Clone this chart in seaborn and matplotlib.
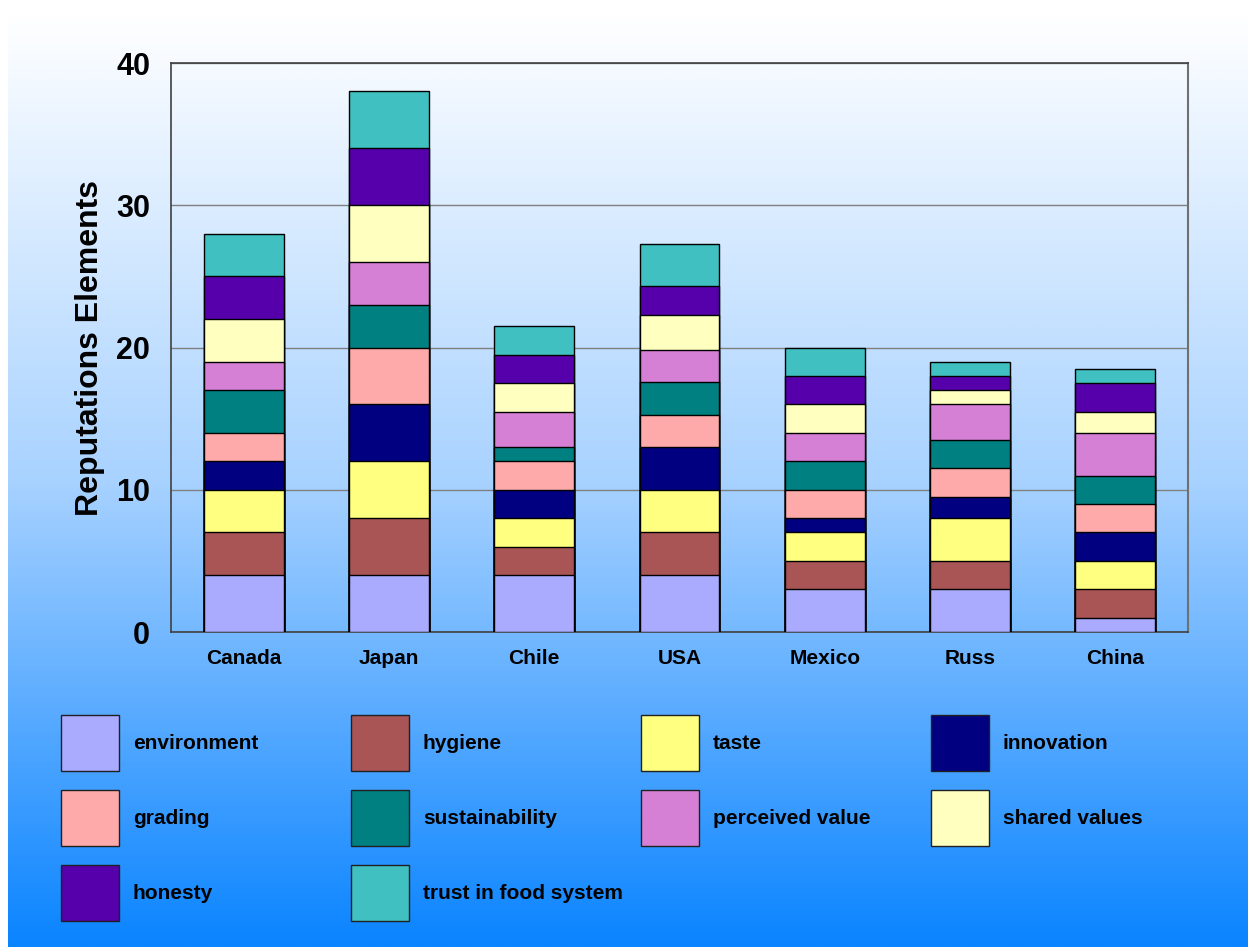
import numpy as np
import pandas as pd
import matplotlib
matplotlib.use("Agg")
import matplotlib.pyplot as plt
import seaborn as sns
from matplotlib.patches import Rectangle
from matplotlib.colors import LinearSegmentedColormap
from matplotlib.ticker import MultipleLocator, FixedLocator

countries = ["Canada", "Japan", "Chile", "USA", "Mexico", "Russ", "China"]
elements = ["environment", "hygiene", "taste", "innovation", "grading",
            "sustainability", "perceived value", "shared values", "honesty",
            "trust in food system"]

environment = [4, 4, 4, 4, 3, 3, 1]
hygiene = [3, 4, 2, 3, 2, 2, 2]
taste = [3, 4, 2, 3, 2, 3, 2]
innovation = [2, 4, 2, 3, 1, 1.5, 2]
grading = [2, 4, 2, 2.25, 2, 2, 2]
sustainability = [3, 3, 1, 2.3, 2, 2, 2]
perceived_value = [2, 3, 2.5, 2.25, 2, 2.5, 3]
shared_values = [3, 4, 2, 2.5, 2, 1, 1.5]
honesty = [3, 4, 2, 2, 2, 1, 2]
trust_in_food_system = [3, 4, 2, 3, 2, 1, 1]

colors = ["#aaaaff", "#aa5555", "#ffff80", "#000080", "#ffaaaa",
          "#008080", "#d580d5", "#ffffc0", "#5500aa", "#40c0c0"]

series = [environment, hygiene, taste, innovation, grading, sustainability,
          perceived_value, shared_values, honesty, trust_in_food_system]
df = pd.DataFrame(dict(zip(elements, series)), index=countries)
cum = df.cumsum(axis=1)

W, H = 1248, 947
sns.set_style("white")
plt.rcParams['font.family'] = ['Liberation Sans', 'DejaVu Sans']
plt.rcParams['font.weight'] = 'bold'
plt.rcParams['text.color'] = 'black'
plt.rcParams['axes.labelcolor'] = 'black'
plt.rcParams['xtick.labelcolor'] = 'black'
plt.rcParams['ytick.labelcolor'] = 'black'

fig = plt.figure(figsize=(W / 100, H / 100), dpi=100)
fig.patch.set_facecolor("white")

# gradient background
bg = fig.add_axes([8 / W, 0, 1 - 8 / W, (H - 15) / H])
cmap = LinearSegmentedColormap.from_list("bg", ["#ffffff", "#a8d2ff", "#0a84ff"])
grad = np.linspace(0, 1, 512).reshape(-1, 1)
bg.imshow(grad, aspect="auto", cmap=cmap, extent=[0, 1, 0, 1], origin="upper")
bg.set_axis_off()
bg.set_zorder(0)

ax = fig.add_axes([171 / W, 1 - 632 / H, (1188 - 171) / W, (632 - 63) / H])
ax.set_zorder(1)
ax.patch.set_alpha(0)

for i in reversed(range(len(elements))):
    sns.barplot(x=countries, y=cum[elements[i]].values, color=colors[i],
                width=0.55, saturation=1, edgecolor="black", linewidth=1,
                errorbar=None, ax=ax, zorder=3)

ax.set_xlim(-0.5, len(countries) - 0.5)
ax.set_ylim(0, 40)
ax.set_axisbelow(True)
ax.yaxis.grid(True, color="#808080", linewidth=1)
ax.xaxis.grid(False)

ax.yaxis.set_major_locator(MultipleLocator(10))
ax.yaxis.set_minor_locator(MultipleLocator(5))
ax.tick_params(axis="y", which="major", direction="out", length=10, width=1,
               color="#808080", labelsize=22, pad=5, labelcolor="black")
ax.tick_params(axis="y", which="minor", direction="inout", length=13, width=1,
               color="#808080")
ax.xaxis.set_minor_locator(FixedLocator(np.arange(-0.5, len(countries), 1.0)))
ax.tick_params(axis="x", which="major", length=0, labelsize=15, pad=12,
               labelcolor="black")
ax.tick_params(axis="x", which="minor", direction="inout", length=16, width=1,
               color="#808080")
for lab in ax.get_xticklabels() + ax.get_yticklabels():
    lab.set_fontweight("bold")

for s in ["left", "bottom", "top", "right"]:
    ax.spines[s].set_visible(True)
    ax.spines[s].set_color("#404040")
    ax.spines[s].set_linewidth(1.2)
ax.spines["right"].set_color("#707070")
ax.spines["right"].set_linewidth(1.5)

ax.set_xlabel("")
ax.set_ylabel("Reputations Elements", fontsize=23, fontweight="bold",
              labelpad=8, color="black")

# legend grid
for idx, name in enumerate(elements):
    row, col = divmod(idx, 4)
    x0 = 61 + 290 * col
    y0 = 715 + 75 * row
    fig.add_artist(Rectangle((x0 / W, 1 - (y0 + 56) / H), 58 / W, 56 / H,
                             transform=fig.transFigure, facecolor=colors[idx],
                             edgecolor="#202020", linewidth=1))
    fig.text((x0 + 72) / W, 1 - (y0 + 28) / H, name, fontsize=15,
             fontweight="bold", va="center", ha="left", color="black")

fig.savefig("out.png", dpi=100)
